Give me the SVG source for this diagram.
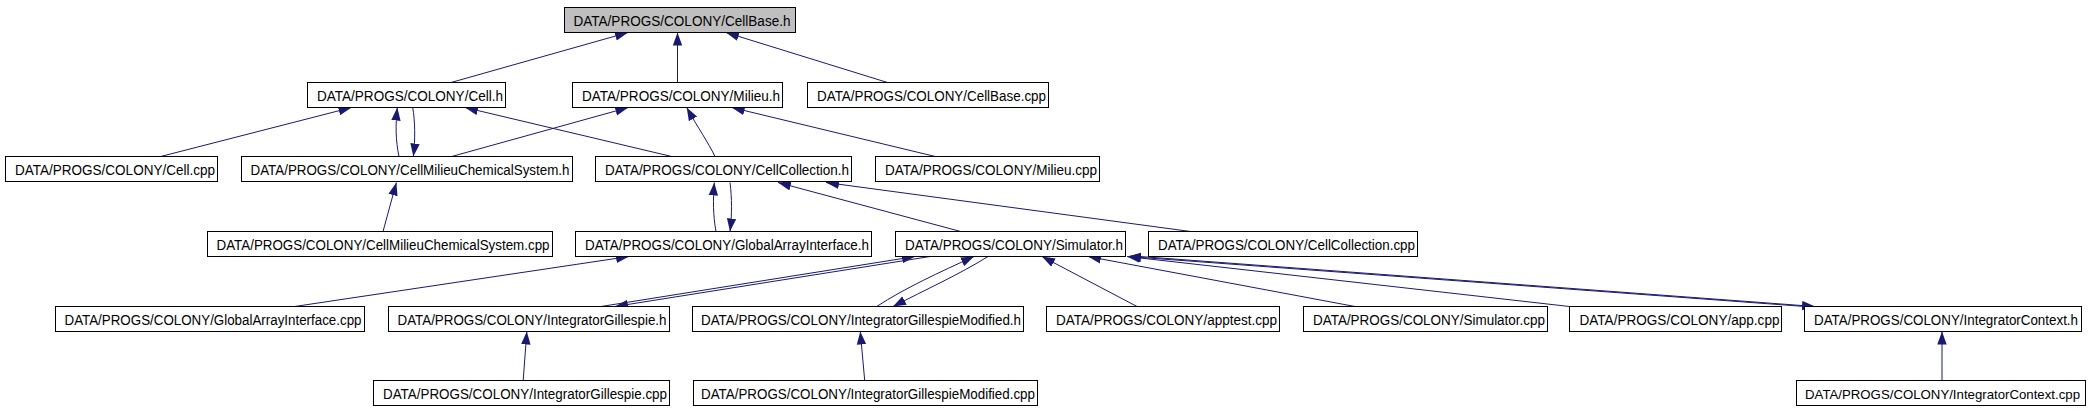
<svg xmlns="http://www.w3.org/2000/svg" width="2092" height="411" viewBox="0 0 2092 411">
<style>
.n rect{fill:#ffffff;stroke:#000000;stroke-width:1}
.n.root rect{fill:#bfbfbf}
.n text{font-family:"Liberation Sans",Arial,Helvetica,sans-serif;font-size:14px;fill:#000000}
.e path{fill:none;stroke:#191970;stroke-width:1;marker-end:url(#ah)}
</style>
<defs>
<marker id="ah" markerUnits="userSpaceOnUse" viewBox="0 0 14 10" markerWidth="14" markerHeight="10" refX="13" refY="5" orient="auto">
<path d="M0,0.3 L13,5 L0,9.7 z" fill="#191970"/>
</marker>
</defs>
<rect width="2092" height="411" fill="#ffffff"/>
<g id="connectors" class="e">
<path d="M451,82.5 L628,32.5"/>
<path d="M677.5,82.5 L677.5,32.5"/>
<path d="M887.5,82.5 L726,32.5"/>
<path d="M160.7,156.5 L351.5,107.5"/>
<path d="M399,156.5 C395.5,140 395.5,125 397.3,107.5"/>
<path d="M412.7,107.5 C415,120 415.5,140 413.3,156.5"/>
<path d="M451.7,156.5 L628.3,107.5"/>
<path d="M671.7,156.5 L465,107.5"/>
<path d="M715,156.5 C708,142 698,128 686.7,107.5"/>
<path d="M935.3,156.5 L731.7,107.5"/>
<path d="M383,231.5 L396.4,182.5"/>
<path d="M716,231.5 C713,215 713,200 714.3,182.5"/>
<path d="M730,182.5 C732,198 732,215 730,231.5"/>
<path d="M960.7,231.5 L778,182.5"/>
<path d="M1190.6,231.5 L826,182.5"/>
<path d="M294.6,306.5 L629,256.5"/>
<path d="M601,306.5 L915,256.5"/>
<path d="M930,256.5 L615,306.5"/>
<path d="M876.7,306.5 C905,288 940,272 974,256.5"/>
<path d="M988,256.5 C960,274 925,290 893,306.5"/>
<path d="M1137,306.5 L1042,256.5"/>
<path d="M1355,306.5 L1088,256.5"/>
<path d="M1569.5,306.5 L1127,256.5"/>
<path d="M1805,306.5 L1128,256.5"/>
<path d="M1140,256.5 L1815,306.5"/>
<path d="M523.2,380.5 L526.8,331.5"/>
<path d="M864.7,380.5 L860.3,331.5"/>
<path d="M1942,380.5 L1942,331.5"/>
</g>
<g id="node-CellBase_h" class="n root"><rect x="564.5" y="7.5" width="231" height="25"/><text x="573.5" y="25.5" textLength="217" lengthAdjust="spacingAndGlyphs">DATA/PROGS/COLONY/CellBase.h</text></g>
<g id="node-Cell_h" class="n"><rect x="307.5" y="82.5" width="198" height="25"/><text x="317" y="100.5" textLength="186" lengthAdjust="spacingAndGlyphs">DATA/PROGS/COLONY/Cell.h</text></g>
<g id="node-Milieu_h" class="n"><rect x="572.5" y="82.5" width="210" height="25"/><text x="582" y="100.5" textLength="198" lengthAdjust="spacingAndGlyphs">DATA/PROGS/COLONY/Milieu.h</text></g>
<g id="node-CellBase_cpp" class="n"><rect x="807.5" y="82.5" width="241" height="25"/><text x="817" y="100.5" textLength="229" lengthAdjust="spacingAndGlyphs">DATA/PROGS/COLONY/CellBase.cpp</text></g>
<g id="node-Cell_cpp" class="n"><rect x="5.5" y="156.5" width="212" height="25"/><text x="15" y="174.5" textLength="200" lengthAdjust="spacingAndGlyphs">DATA/PROGS/COLONY/Cell.cpp</text></g>
<g id="node-CellMilieuChemicalSystem_h" class="n"><rect x="241.5" y="156.5" width="331" height="25"/><text x="250.5" y="174.5" textLength="319" lengthAdjust="spacingAndGlyphs">DATA/PROGS/COLONY/CellMilieuChemicalSystem.h</text></g>
<g id="node-CellCollection_h" class="n"><rect x="595.5" y="156.5" width="256" height="25"/><text x="605" y="174.5" textLength="244" lengthAdjust="spacingAndGlyphs">DATA/PROGS/COLONY/CellCollection.h</text></g>
<g id="node-Milieu_cpp" class="n"><rect x="875.5" y="156.5" width="224" height="25"/><text x="885" y="174.5" textLength="212" lengthAdjust="spacingAndGlyphs">DATA/PROGS/COLONY/Milieu.cpp</text></g>
<g id="node-CellMilieuChemicalSystem_cpp" class="n"><rect x="207.5" y="231.5" width="345" height="25"/><text x="216.5" y="249.5" textLength="333" lengthAdjust="spacingAndGlyphs">DATA/PROGS/COLONY/CellMilieuChemicalSystem.cpp</text></g>
<g id="node-GlobalArrayInterface_h" class="n"><rect x="575.5" y="231.5" width="296" height="25"/><text x="585" y="249.5" textLength="284" lengthAdjust="spacingAndGlyphs">DATA/PROGS/COLONY/GlobalArrayInterface.h</text></g>
<g id="node-Simulator_h" class="n"><rect x="895.5" y="231.5" width="230" height="25"/><text x="905" y="249.5" textLength="218" lengthAdjust="spacingAndGlyphs">DATA/PROGS/COLONY/Simulator.h</text></g>
<g id="node-CellCollection_cpp" class="n"><rect x="1148.5" y="231.5" width="269" height="25"/><text x="1158" y="249.5" textLength="257" lengthAdjust="spacingAndGlyphs">DATA/PROGS/COLONY/CellCollection.cpp</text></g>
<g id="node-GlobalArrayInterface_cpp" class="n"><rect x="55.5" y="306.5" width="309" height="25"/><text x="64.5" y="324.5" textLength="297" lengthAdjust="spacingAndGlyphs">DATA/PROGS/COLONY/GlobalArrayInterface.cpp</text></g>
<g id="node-IntegratorGillespie_h" class="n"><rect x="388.5" y="306.5" width="281" height="25"/><text x="397.5" y="324.5" textLength="269" lengthAdjust="spacingAndGlyphs">DATA/PROGS/COLONY/IntegratorGillespie.h</text></g>
<g id="node-IntegratorGillespieModified_h" class="n"><rect x="692.5" y="306.5" width="331" height="25"/><text x="701" y="324.5" textLength="320" lengthAdjust="spacingAndGlyphs">DATA/PROGS/COLONY/IntegratorGillespieModified.h</text></g>
<g id="node-apptest_cpp" class="n"><rect x="1046.5" y="306.5" width="233" height="25"/><text x="1056" y="324.5" textLength="221" lengthAdjust="spacingAndGlyphs">DATA/PROGS/COLONY/apptest.cpp</text></g>
<g id="node-Simulator_cpp" class="n"><rect x="1303.5" y="306.5" width="244" height="25"/><text x="1313" y="324.5" textLength="232" lengthAdjust="spacingAndGlyphs">DATA/PROGS/COLONY/Simulator.cpp</text></g>
<g id="node-app_cpp" class="n"><rect x="1569.5" y="306.5" width="212" height="25"/><text x="1579.5" y="324.5" textLength="200" lengthAdjust="spacingAndGlyphs">DATA/PROGS/COLONY/app.cpp</text></g>
<g id="node-IntegratorContext_h" class="n"><rect x="1804.5" y="306.5" width="277" height="25"/><text x="1814" y="324.5" textLength="264" lengthAdjust="spacingAndGlyphs">DATA/PROGS/COLONY/IntegratorContext.h</text></g>
<g id="node-IntegratorGillespie_cpp" class="n"><rect x="373.5" y="380.5" width="296" height="25"/><text x="383" y="398.5" textLength="284" lengthAdjust="spacingAndGlyphs">DATA/PROGS/COLONY/IntegratorGillespie.cpp</text></g>
<g id="node-IntegratorGillespieModified_cpp" class="n"><rect x="693.5" y="380.5" width="344" height="25"/><text x="701" y="398.5" textLength="334" lengthAdjust="spacingAndGlyphs">DATA/PROGS/COLONY/IntegratorGillespieModified.cpp</text></g>
<g id="node-IntegratorContext_cpp" class="n"><rect x="1796.5" y="380.5" width="289" height="25"/><text x="1805" y="398.5" style="font-size:13.2px" textLength="275" lengthAdjust="spacingAndGlyphs">DATA/PROGS/COLONY/IntegratorContext.cpp</text></g>
</svg>
